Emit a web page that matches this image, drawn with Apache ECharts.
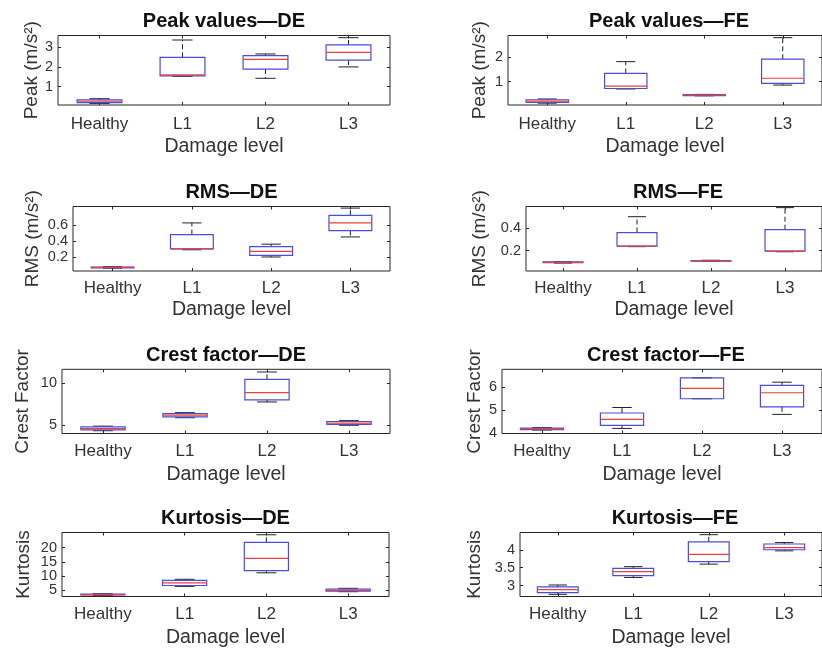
<!DOCTYPE html>
<html>
<head>
<meta charset="utf-8">
<script src="https://cdn.jsdelivr.net/npm/echarts@6/dist/echarts.min.js"></script>
<style>
html,body{margin:0;padding:0;background:#fff;}
#chart{width:822px;height:652px;}
</style>
</head>
<body>
<div id="chart"></div>
<script>
// ---------------- data ----------------
const categories = ['Healthy', 'L1', 'L2', 'L3'];
// each entry: [lower whisker, Q1, median, Q3, upper whisker]
const peakDE  = [[0.14, 0.18, 0.25, 0.32, 0.38], [1.52, 1.54, 1.59, 2.49, 3.37], [1.42, 1.89, 2.38, 2.57, 2.66], [2.00, 2.35, 2.74, 3.12, 3.49]];
const peakFE  = [[0.12, 0.15, 0.20, 0.26, 0.29], [0.70, 0.72, 0.82, 1.34, 1.82], [0.42, 0.43, 0.45, 0.47, 0.48], [0.86, 0.93, 1.14, 1.92, 2.80]];
const rmsDE   = [[0.060, 0.065, 0.070, 0.075, 0.080], [0.29, 0.30, 0.30, 0.48, 0.625], [0.20, 0.22, 0.27, 0.33, 0.36], [0.45, 0.53, 0.625, 0.72, 0.81]];
const rmsFE   = [[0.090, 0.093, 0.097, 0.100, 0.103], [0.235, 0.24, 0.24, 0.36, 0.50], [0.105, 0.108, 0.110, 0.112, 0.115], [0.19, 0.195, 0.195, 0.385, 0.58]];
const crestDE = [[4.35, 4.45, 4.60, 4.80, 4.90], [5.90, 6.00, 6.20, 6.40, 6.50], [7.78, 8.02, 8.89, 10.48, 11.35], [5.00, 5.10, 5.25, 5.45, 5.55]];
const crestFE = [[4.12, 4.14, 4.17, 4.20, 4.23], [4.19, 4.32, 4.58, 4.86, 5.10], [5.48, 5.48, 5.93, 6.39, 6.39], [4.80, 5.13, 5.74, 6.06, 6.20]];
const kurtDE  = [[3.10, 3.25, 3.40, 3.55, 3.70], [6.30, 6.60, 7.50, 8.40, 8.80], [11.1, 11.9, 16.2, 21.9, 24.6], [4.40, 4.60, 4.90, 5.30, 5.60]];
const kurtFE  = [[2.76, 2.81, 2.89, 2.97, 3.02], [3.23, 3.28, 3.39, 3.48, 3.53], [3.60, 3.67, 3.87, 4.22, 4.42], [3.97, 4.00, 4.06, 4.16, 4.20]];

// tick labels of the y axes
const peakDETicks  = [1, 2, 3];
const peakFETicks  = [1, 2];
const rmsDETicks   = [0.2, 0.4, 0.6];
const rmsFETicks   = [0.2, 0.4];
const crestDETicks = [5, 10];
const crestFETicks = [4, 5, 6];
const kurtDETicks  = [5, 10, 15, 20];
const kurtFETicks  = [3, 3.5, 4];

const titles = ['Peak values\u2014DE', 'Peak values\u2014FE', 'RMS\u2014DE', 'RMS\u2014FE',
                'Crest factor\u2014DE', 'Crest factor\u2014FE', 'Kurtosis\u2014DE', 'Kurtosis\u2014FE'];
const yNames = ['Peak (m/s\u00B2)', 'Peak (m/s\u00B2)', 'RMS (m/s\u00B2)', 'RMS (m/s\u00B2)',
                'Crest Factor', 'Crest Factor', 'Kurtosis', 'Kurtosis'];
const xName = 'Damage level';

// ---------------- layout & style ----------------
const panels = [
  {data: peakDE,  ticks: peakDETicks,  min: 0.06,  max: 3.6,  left: 58,  right: 390, top: 35.5,  bottom: 105,   yGap: 17, xMargin: 11, xGap: 32},
  {data: peakFE,  ticks: peakFETicks,  min: 0.045, max: 2.89, left: 508, right: 830, top: 35.5,  bottom: 105,   yGap: 19, xMargin: 11, xGap: 32},
  {data: rmsDE,   ticks: rmsDETicks,   min: 0.025, max: 0.83, left: 73,  right: 390, top: 206.5, bottom: 271,   yGap: 31, xMargin: 9,  xGap: 29},
  {data: rmsFE,   ticks: rmsFETicks,   min: 0.02,  max: 0.59, left: 526, right: 830, top: 206.5, bottom: 271,   yGap: 37, xMargin: 9,  xGap: 29},
  {data: crestDE, ticks: crestDETicks, min: 4.02,  max: 11.67,left: 62,  right: 390, top: 369.3, bottom: 433.5, yGap: 30, xMargin: 9,  xGap: 31},
  {data: crestFE, ticks: crestFETicks, min: 3.97,  max: 6.76, left: 502, right: 830, top: 369.3, bottom: 433.5, yGap: 18, xMargin: 9,  xGap: 31},
  {data: kurtDE,  ticks: kurtDETicks,  min: 2.7,   max: 25.4, left: 62,  right: 389, top: 532.5, bottom: 596.5, yGap: 29, xMargin: 9,  xGap: 31},
  {data: kurtFE,  ticks: kurtFETicks,  min: 2.7,   max: 4.48, left: 520, right: 830, top: 532.5, bottom: 596.5, yGap: 36, xMargin: 9,  xGap: 31}
];

const FONT = "'Liberation Sans', Arial, Helvetica, sans-serif";
const AXIS_COLOR = '#262626';
const BOX_COLOR = '#4b4bdc';
const MED_COLOR = '#e8413a';
const WHISK_COLOR = '#222';

function renderBox(params, api) {
  const x = api.value(0);
  const lo = api.coord([x, api.value(1)]);
  const q1 = api.coord([x, api.value(2)]);
  const md = api.coord([x, api.value(3)]);
  const q3 = api.coord([x, api.value(4)]);
  const hi = api.coord([x, api.value(5)]);
  const band = api.size([1, 0])[0];
  const bw = band * 0.54;
  const cw = bw * 0.45;
  const cx = q1[0];
  const whisk = {stroke: WHISK_COLOR, lineWidth: 1, lineDash: [5, 3]};
  const cap = {stroke: WHISK_COLOR, lineWidth: 1};
  return {
    type: 'group',
    children: [
      {type: 'line', shape: {x1: cx, y1: q3[1], x2: cx, y2: hi[1]}, style: whisk},
      {type: 'line', shape: {x1: cx, y1: q1[1], x2: cx, y2: lo[1]}, style: whisk},
      {type: 'line', shape: {x1: cx - cw / 2, y1: hi[1], x2: cx + cw / 2, y2: hi[1]}, style: cap},
      {type: 'line', shape: {x1: cx - cw / 2, y1: lo[1], x2: cx + cw / 2, y2: lo[1]}, style: cap},
      {type: 'rect', shape: {x: cx - bw / 2, y: q3[1], width: bw, height: Math.max(q1[1] - q3[1], 0.5)},
       style: {fill: 'none', stroke: BOX_COLOR, lineWidth: 1.2}},
      {type: 'line', shape: {x1: cx - bw / 2, y1: md[1], x2: cx + bw / 2, y2: md[1]},
       style: {stroke: MED_COLOR, lineWidth: 1.2}}
    ]
  };
}

const yLabelStyle = {fontFamily: FONT, fontSize: 14.5, color: '#333', margin: 5,
                     showMinLabel: true, showMaxLabel: true, hideOverlap: false};

const grid = [], xAxis = [], yAxis = [], series = [], title = [];
panels.forEach((p, i) => {
  // labels split over two axes so closely spaced labels are all kept
  const evenTicks = p.ticks.filter((t, k) => k % 2 === 0);
  const oddTicks = p.ticks.filter((t, k) => k % 2 === 1);
  grid.push({left: p.left, top: p.top, width: p.right - p.left, height: p.bottom - p.top,
             show: true, borderColor: AXIS_COLOR, borderWidth: 1, backgroundColor: '#fff', containLabel: false});
  title.push({text: titles[i], left: (p.left + p.right) / 2, top: p.top - 24, textAlign: 'center', padding: 0,
              textStyle: {fontFamily: FONT, fontSize: 20, fontWeight: 'bold', color: '#111'}});
  xAxis.push({type: 'category', gridIndex: i, data: categories, boundaryGap: true,
              axisLine: {show: false},
              axisTick: {show: true, inside: true, alignWithLabel: true, length: 3, lineStyle: {color: AXIS_COLOR}},
              axisLabel: {fontFamily: FONT, fontSize: 17, color: '#333', margin: p.xMargin, interval: 0, hideOverlap: false},
              name: xName, nameLocation: 'middle', nameGap: p.xGap,
              nameTextStyle: {fontFamily: FONT, fontSize: 19.5, color: '#333'}});
  xAxis.push({type: 'category', gridIndex: i, data: categories, position: 'top', boundaryGap: true,
              axisLine: {show: false},
              axisTick: {show: true, inside: true, alignWithLabel: true, length: 3, lineStyle: {color: AXIS_COLOR}},
              axisLabel: {show: false}});
  yAxis.push({type: 'value', gridIndex: i, min: p.min, max: p.max, position: 'left',
              axisLine: {show: false}, splitLine: {show: false},
              axisTick: {show: true, inside: true, length: 3, customValues: p.ticks, lineStyle: {color: AXIS_COLOR}},
              axisLabel: Object.assign({customValues: evenTicks}, yLabelStyle),
              name: yNames[i], nameLocation: 'middle', nameRotate: 90, nameGap: p.yGap,
              nameTextStyle: {fontFamily: FONT, fontSize: 19, color: '#333'}});
  yAxis.push({type: 'value', gridIndex: i, min: p.min, max: p.max, position: 'left', offset: 0,
              axisLine: {show: false}, splitLine: {show: false}, axisTick: {show: false},
              axisLabel: Object.assign({customValues: oddTicks, show: oddTicks.length > 0}, yLabelStyle)});
  yAxis.push({type: 'value', gridIndex: i, min: p.min, max: p.max, position: 'right',
              axisLine: {show: false}, splitLine: {show: false},
              axisTick: {show: true, inside: true, length: 3, customValues: p.ticks, lineStyle: {color: AXIS_COLOR}},
              axisLabel: {show: false}});
  series.push({type: 'custom', xAxisIndex: 2 * i, yAxisIndex: 3 * i,
               renderItem: renderBox, clip: false,
               encode: {x: 0, y: [1, 2, 3, 4, 5]},
               data: p.data.map((v, k) => [k].concat(v))});
});

const chart = echarts.init(document.getElementById('chart'), null, {renderer: 'canvas'});
chart.setOption({backgroundColor: '#fff', animation: false, title, grid, xAxis, yAxis, series});
</script>
</body>
</html>
